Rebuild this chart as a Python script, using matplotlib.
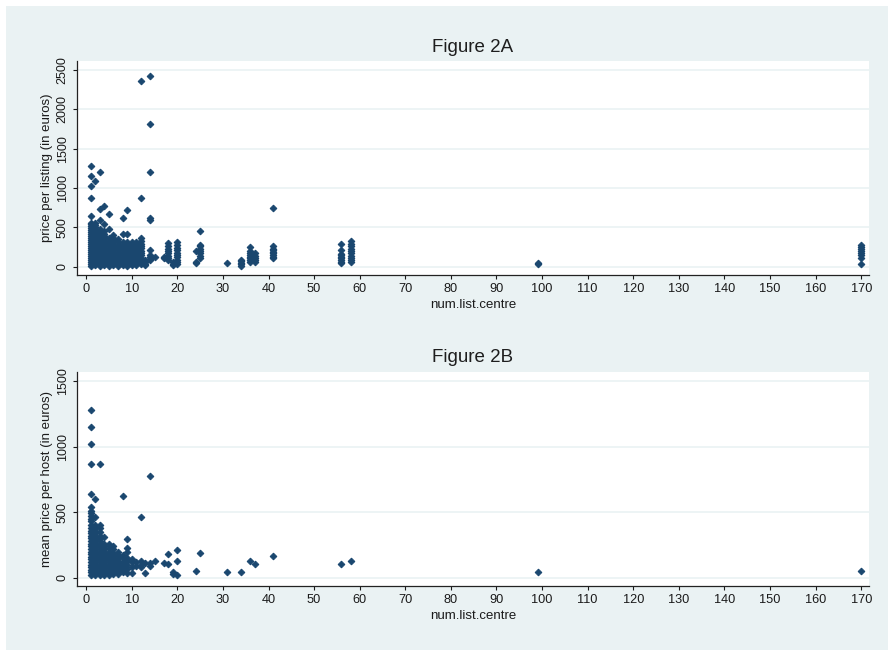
import matplotlib
matplotlib.use('Agg')
import matplotlib.pyplot as plt
from matplotlib.patches import Rectangle

plt.rcParams['font.family'] = ['Liberation Sans', 'DejaVu Sans']

# ---------------- data ----------------
x_ticks = list(range(0, 171, 10))
a_yticks = [0, 500, 1000, 1500, 2000, 2500]
b_yticks = [0, 500, 1000, 1500]

titles = ['Figure 2A', 'Figure 2B']
x_label = 'num.list.centre'
y_labels = ['price per listing (in euros)', 'mean price per host (in euros)']

# Figure 2A : number of listings in centre vs price per listing
a_xs = [1, 2, 3, 4, 5, 6, 7, 8, 9, 10, 11, 12, 13, 14, 15, 17, 18, 19, 20,
        24, 25, 31, 34, 36, 37, 41, 56, 58, 99, 170]
a_ys = [
    [15, 40, 65, 90, 115, 140, 165, 190, 215, 240, 265, 290, 315, 340, 365, 390,
     415, 440, 465, 490, 515, 540, 555, 640, 870, 1020, 1150, 1280],
    [20, 45, 70, 95, 120, 145, 170, 195, 220, 245, 270, 295, 320, 345, 370, 395,
     420, 445, 470, 500, 530, 560, 1090],
    [15, 40, 65, 90, 115, 140, 165, 190, 215, 240, 265, 290, 315, 340, 365, 390,
     420, 450, 480, 600, 730, 1210],
    [20, 45, 70, 95, 120, 150, 180, 210, 240, 270, 300, 330, 360, 390, 420, 450,
     540, 770],
    [15, 40, 65, 90, 120, 150, 180, 210, 240, 270, 300, 330, 360, 480, 670],
    [20, 45, 70, 100, 130, 160, 190, 220, 250, 280, 310, 340, 370, 400],
    [15, 40, 70, 100, 130, 160, 190, 220, 250, 280, 310, 350],
    [20, 45, 70, 100, 130, 160, 190, 220, 250, 280, 310, 420, 620],
    [15, 40, 70, 100, 130, 160, 190, 220, 250, 280, 310, 420, 720],
    [20, 45, 75, 105, 135, 165, 195, 225, 255, 285, 310],
    [25, 50, 80, 110, 140, 170, 200, 230, 260, 290, 310],
    [30, 55, 85, 115, 145, 175, 205, 235, 265, 295, 330, 365, 870, 2360],
    [20, 40, 60, 85],
    [85, 100, 120, 150, 215, 600, 620, 1210, 1810, 2420],
    [127],
    [110, 127],
    [85, 110, 140, 170, 200, 230, 260, 300],
    [20, 40, 63],
    [30, 60, 90, 120, 150, 180, 210, 240, 270, 310],
    [45, 65, 200],
    [110, 140, 170, 200, 230, 260, 275, 450],
    [45],
    [10, 30, 50, 70, 85],
    [65, 90, 110, 130, 150, 175, 200, 250],
    [65, 85, 110, 140, 175],
    [110, 130, 150, 170, 190, 210, 230, 260, 750],
    [45, 65, 85, 105, 125, 145, 165, 210, 290],
    [60, 85, 110, 140, 170, 200, 230, 260, 290, 330],
    [40, 50],
    [35, 110, 150, 180, 200, 225, 250, 275],
]

# Figure 2B : number of listings in centre vs mean price per host
b_xs = [1, 2, 3, 4, 5, 6, 7, 8, 9, 10, 11, 12, 13, 14, 15, 17, 18, 19, 20,
        24, 25, 31, 34, 36, 37, 41, 56, 58, 99, 170]
b_ys = [
    [20, 40, 60, 80, 100, 120, 140, 160, 180, 200, 220, 240, 260, 280, 300, 320,
     340, 360, 380, 400, 430, 450, 470, 490, 510, 540, 640, 865, 1020, 1150, 1280],
    [20, 40, 60, 80, 100, 120, 140, 160, 180, 200, 220, 240, 260, 280, 300, 320,
     340, 360, 380, 400, 460, 600],
    [20, 40, 60, 80, 100, 120, 140, 160, 180, 200, 220, 240, 260, 280, 300, 320,
     350, 380, 400, 865],
    [20, 40, 60, 80, 100, 120, 140, 160, 180, 200, 220, 240, 260, 310],
    [20, 40, 60, 80, 100, 120, 140, 160, 180, 200, 230, 260],
    [25, 45, 65, 85, 105, 125, 145, 165, 185, 220, 245],
    [30, 50, 70, 90, 110, 130, 150, 170, 195],
    [40, 60, 80, 100, 120, 150, 175, 620],
    [33, 70, 100, 130, 150, 195, 230, 298],
    [33, 80, 120, 140],
    [90, 120],
    [80, 100, 130, 465],
    [35, 110],
    [90, 110, 776],
    [125],
    [110],
    [105, 181],
    [30, 40],
    [23, 130, 211],
    [49],
    [191],
    [41],
    [41],
    [127],
    [102],
    [166],
    [104],
    [125],
    [41],
    [49],
]

# ---------------- styling ----------------
W, H = 890, 653
bg = '#EAF2F3'
mcol = '#1A476F'

fig = plt.figure(figsize=(W / 100, H / 100), dpi=100, facecolor='white')
fig.patches.append(Rectangle((6 / W, 3 / H), 1 - 8 / W, 1 - 9 / H,
                             transform=fig.transFigure, facecolor=bg,
                             edgecolor='none', zorder=-10))

axA = fig.add_axes([77 / W, 1 - 275 / H, 792 / W, 214 / H])
axB = fig.add_axes([77 / W, 1 - 586 / H, 792 / W, 214 / H])


def expand(xs, ys):
    px, py = [], []
    for x, col in zip(xs, ys):
        for v in col:
            px.append(x)
            py.append(v)
    return px, py


def style(ax, ylim, yticks, ylabel):
    ax.set_facecolor('white')
    ax.set_xlim(-2, 171.7)
    ax.set_ylim(*ylim)
    ax.set_xticks(x_ticks)
    ax.set_xticklabels([str(t) for t in x_ticks])
    ax.set_yticks(yticks)
    ax.set_yticklabels([str(t) for t in yticks], rotation=90, va='center')
    ax.tick_params(axis='x', length=3, width=0.8, pad=3, labelsize=9.2,
                   colors='#1a1a1a')
    ax.tick_params(axis='y', length=3, width=0.8, pad=3, labelsize=9,
                   colors='#1a1a1a')
    for s in ['top', 'right']:
        ax.spines[s].set_visible(False)
    for s in ['left', 'bottom']:
        ax.spines[s].set_color('#222222')
        ax.spines[s].set_linewidth(0.9)
    ax.grid(axis='y', color=bg, lw=1.2)
    ax.grid(axis='x', visible=False)
    ax.set_axisbelow(True)
    ax.set_xlabel(x_label, fontsize=9.5, color='#1a1a1a')
    ax.xaxis.label.set_va('center')
    ax.xaxis.set_label_coords(0.5, -30 / 214)
    ax.set_ylabel(ylabel, fontsize=9.5, color='#1a1a1a')
    ax.yaxis.label.set_va('center')
    ax.yaxis.set_label_coords(-30 / 792, 0.5)


style(axA, (-105, 2615), a_yticks, y_labels[0])
style(axB, (-63, 1569), b_yticks, y_labels[1])

for ax, xs, ys in [(axA, a_xs, a_ys), (axB, b_xs, b_ys)]:
    px, py = expand(xs, ys)
    ax.plot(px, py, linestyle='none', marker='D', ms=3.4, color=mcol,
            mec=mcol, mew=0.7, zorder=3)

fig.text(473 / W, 1 - 47 / H, titles[0], ha='center', va='center',
         fontsize=13.5, color='#1e1e1e')
fig.text(473 / W, 1 - 358 / H, titles[1], ha='center', va='center',
         fontsize=13.5, color='#1e1e1e')

fig.savefig('out.png', dpi=100, facecolor=fig.get_facecolor())
